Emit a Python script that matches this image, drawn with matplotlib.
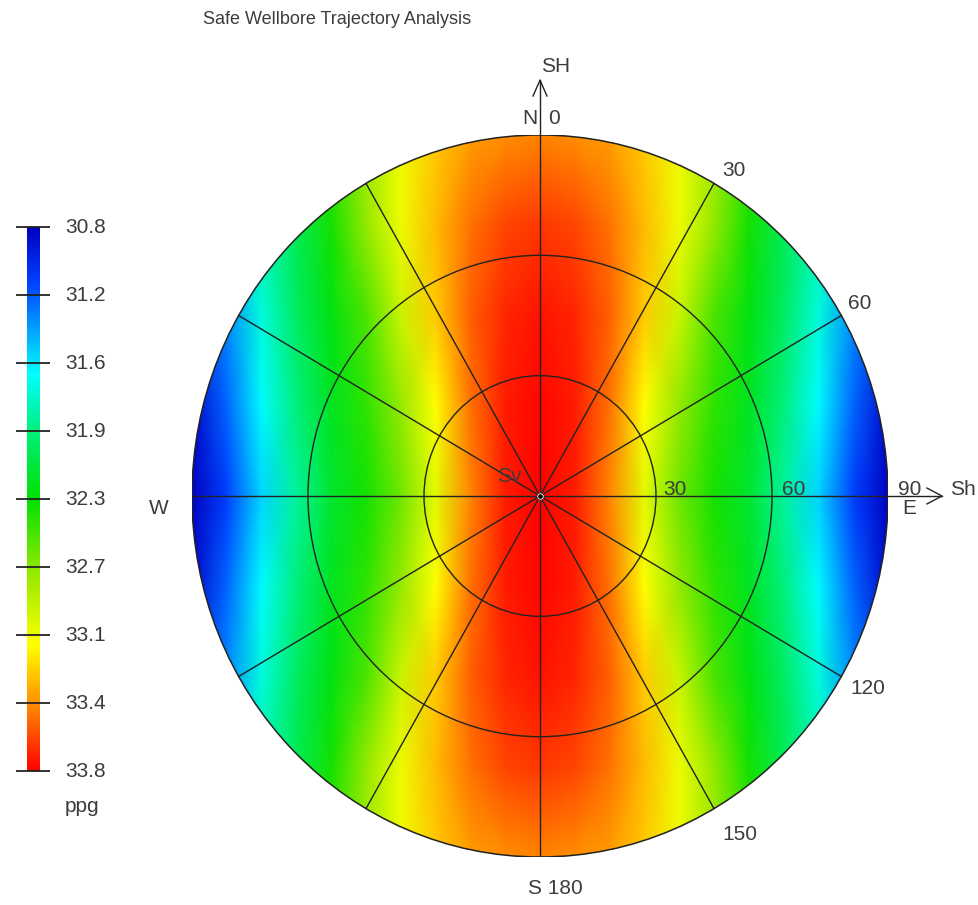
import numpy as np
import matplotlib.pyplot as plt
from matplotlib.colors import LinearSegmentedColormap
from matplotlib.patches import Circle

plt.rcParams['font.family'] = ['Liberation Sans', 'DejaVu Sans']
TXT = '#3c3c3c'

# mud weight window (ppg) over one quadrant of the stereonet;
# east/north are offsets from the centre, 1.0 = 90 deg inclination
east = [0.0, 0.1, 0.2, 0.3, 0.4, 0.5, 0.6, 0.7, 0.8, 0.9, 1.0]
north = [0.0, 0.25, 0.5, 0.75, 1.0]
ppg_n000 = [33.80, 33.72, 33.45, 33.00, 32.60, 32.35, 32.15, 31.85, 31.50, 31.10, 30.80]
ppg_n025 = [33.78, 33.72, 33.50, 33.10, 32.70, 32.42, 32.20, 31.92, 31.60, 31.20, 30.85]
ppg_n050 = [33.75, 33.70, 33.55, 33.25, 32.90, 32.50, 32.25, 32.00, 31.70, 31.30, 31.00]
ppg_n075 = [33.65, 33.62, 33.50, 33.30, 33.05, 32.70, 32.35, 32.05, 31.80, 31.50, 31.20]
ppg_n100 = [33.45, 33.43, 33.38, 33.25, 33.05, 32.75, 32.45, 32.10, 31.80, 31.50, 31.20]

ppg_min, ppg_max = 30.8, 33.8
cbar_labels = ['30.8', '31.2', '31.6', '31.9', '32.3', '32.7', '33.1', '33.4', '33.8']

inclination_rings = [30, 60]
spoke_azimuths = list(range(0, 360, 30))

# quadrant -> full disc by mirroring about both axes
quad = np.array([ppg_n000, ppg_n025, ppg_n050, ppg_n075, ppg_n100])
xq = np.array(east)
yq = np.array(north)
xs = np.concatenate([-xq[:0:-1], xq])
ys = np.concatenate([-yq[:0:-1], yq])
half = np.hstack([quad[:, :0:-1], quad])
Z = np.vstack([half[:0:-1], half])
X, Y = np.meshgrid(xs, ys)

cmap = LinearSegmentedColormap.from_list('ppg', [
    (0.00, '#0000c0'), (0.10, '#0040ff'), (0.27, '#00ffff'), (0.37, '#00f080'),
    (0.50, '#00e000'), (0.63, '#90e800'), (0.77, '#ffff00'), (0.88, '#ff8c00'),
    (1.00, '#ff0000')])

fig = plt.figure(figsize=(9.79, 9.05), dpi=100)
ax = fig.add_axes([192 / 979, 48 / 905, 696 / 979, 722 / 905])
ax.set_xlim(-1, 1)
ax.set_ylim(-1, 1)
ax.axis('off')

mesh = ax.pcolormesh(X, Y, Z, shading='gouraud', cmap=cmap, vmin=ppg_min, vmax=ppg_max)
rim = Circle((0, 0), 1, transform=ax.transData, fill=False, ec='#222222', lw=1.1, zorder=4)
ax.add_patch(rim)
mesh.set_clip_path(rim)

lc = '#222222'
for inc in inclination_rings:
    ax.add_patch(Circle((0, 0), inc / 90, fill=False, ec=lc, lw=1.0, zorder=3))
for az in spoke_azimuths:
    a = np.radians(az)
    ax.plot([0, np.sin(a)], [0, np.cos(a)], color=lc, lw=1.0, zorder=3)

# SH / Sh stress arrows continuing the N and E axes
ax.plot([0, 0], [1, 1.152], color=lc, lw=1.0, clip_on=False)
ax.plot([-0.02, 0, 0.02], [1.108, 1.152, 1.108], color=lc, lw=1.0, clip_on=False)
ax.plot([1, 1.155], [0, 0], color=lc, lw=1.0, clip_on=False)
ax.plot([1.112, 1.155, 1.112], [0.022, 0, -0.022], color=lc, lw=1.0, clip_on=False)
ax.plot([0], [0], 'o', ms=4, color='black', mec='white', mew=0.6, zorder=5)


def lab(text, xy, dx, dy, ha='left', size=15):
    ax.annotate(text, xy, xytext=(dx, dy), textcoords='offset pixels',
                ha=ha, va='center', fontsize=size, color=TXT, annotation_clip=False)


for az, dx, dy in [(30, 8, 13), (60, 7, 12), (120, 9, -12), (150, 8, -26)]:
    a = np.radians(az)
    lab(str(az), (np.sin(a), np.cos(a)), dx, dy)

lab('30', (1 / 3, 0), 7, 7)
lab('60', (2 / 3, 0), 10, 7)
lab('90', (1, 0), 10, 7)
lab('E', (1, 0), 14, -12)
lab('Sh', (1.155, 0), 8, 7)
lab('W', (-1, 0), -33, -12, ha='center')
lab('SH', (0, 1.152), 1, 14)
lab('N', (0, 1), -10, 17, ha='center')
lab('0', (0, 1), 14, 16, ha='center')
lab('S 180', (0, -1), 15, -31, ha='center')
lab('Sv', (0, 0), -31, 20, ha='center')

fig.text(203 / 979, 1 - 19 / 905, 'Safe Wellbore Trajectory Analysis',
         ha='left', va='center', fontsize=13, color=TXT)

# colour scale, low values on top
cax = fig.add_axes([27 / 979, (905 - 771) / 905, 13 / 979, 544 / 905])
cb = fig.colorbar(mesh, cax=cax)
cb.outline.set_visible(False)
cax.invert_yaxis()
cax.set_yticks([])
tick_vals = np.linspace(ppg_min, ppg_max, len(cbar_labels))
cax.hlines(tick_vals, -0.85, 1.77, transform=cax.get_yaxis_transform(),
           color=lc, lw=1.3, clip_on=False)
for v, t in zip(tick_vals, cbar_labels):
    cax.text(2.92, v, t, transform=cax.get_yaxis_transform(), ha='left', va='center',
             fontsize=15, color=TXT)
fig.text(65 / 979, 1 - 806 / 905, 'ppg', ha='left', va='center', fontsize=15, color=TXT)

fig.savefig('out.png', dpi=100)
